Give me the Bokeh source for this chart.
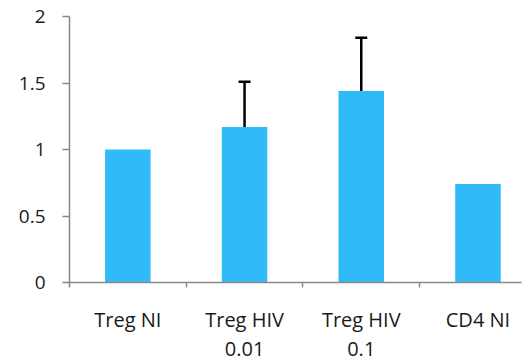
from bokeh.plotting import figure
from bokeh.models import (Range1d, FixedTicker, LinearAxis, ColumnDataSource,
                          Whisker, TeeHead)
from bokeh.embed import file_html
from bokeh.resources import INLINE

categories = ["Treg NI", "Treg HIV\n0.01", "Treg HIV\n0.1", "CD4 NI"]
values = [1.0, 1.17, 1.44, 0.74]
error_tops = [None, 1.51, 1.84, None]
y_ticks = [0, 0.5, 1, 1.5, 2]
y_labels = ["0", "0.5", "1", "1.5", "2"]

BAR_COLOR = "#31BAF8"
AXIS_COLOR = "#898989"
TEXT_COLOR = "#1a1a1a"
FONT = "Open Sans"

centers = [i + 0.5 for i in range(len(categories))]
boundaries = [i for i in range(len(categories) + 1)]
line1 = [c.split("\n")[0] for c in categories]
line2_pos = [x for x, c in zip(centers, categories) if "\n" in c]
line2 = [c.split("\n")[1] for c in categories if "\n" in c]

p = figure(width=523, height=360,
           x_range=Range1d(0, 3.873), y_range=Range1d(0, 2),
           output_backend="svg", toolbar_location=None,
           x_axis_type=None, y_axis_type=None,
           min_border_left=69, min_border_right=2,
           min_border_top=16, min_border_bottom=78)
p.outline_line_color = None
p.xgrid.visible = False
p.ygrid.visible = False
p.background_fill_color = "white"
p.border_fill_color = "white"

src = ColumnDataSource(dict(x=centers, top=values))
p.vbar(x="x", top="top", bottom=0, width=0.39, source=src,
       fill_color=BAR_COLOR, line_color=None)

ex = [c for c, e in zip(centers, error_tops) if e is not None]
ev = [v for v, e in zip(values, error_tops) if e is not None]
et = [e for e in error_tops if e is not None]
esrc = ColumnDataSource(dict(x=ex, lower=ev, upper=et))
w = Whisker(base="x", lower="lower", upper="upper", source=esrc,
            line_color="black", line_width=2.5,
            upper_head=TeeHead(size=12, line_color="black", line_width=2.5),
            lower_head=None, level="overlay")
p.add_layout(w)

# y axis
yaxis = LinearAxis(ticker=FixedTicker(ticks=y_ticks),
                   major_label_overrides={t: l for t, l in zip(y_ticks, y_labels)})
yaxis.axis_line_color = AXIS_COLOR
yaxis.axis_line_width = 1.5
yaxis.major_tick_line_color = AXIS_COLOR
yaxis.major_tick_line_width = 1.5
yaxis.major_tick_out = 7
yaxis.major_tick_in = 0
yaxis.minor_tick_line_color = None
yaxis.major_label_text_font = FONT
yaxis.major_label_text_font_size = "19px"
yaxis.major_label_text_color = TEXT_COLOR
yaxis.major_label_standoff = 17
p.add_layout(yaxis, "left")

# x axis: line, boundary ticks (minor) and first label line at centers
xaxis1 = LinearAxis(ticker=FixedTicker(ticks=centers, minor_ticks=boundaries),
                    major_label_overrides={c: l for c, l in zip(centers, line1)})
xaxis1.axis_line_color = AXIS_COLOR
xaxis1.axis_line_width = 1.5
xaxis1.major_tick_line_color = None
xaxis1.major_tick_out = 0
xaxis1.major_tick_in = 0
xaxis1.minor_tick_line_color = AXIS_COLOR
xaxis1.minor_tick_line_width = 1.5
xaxis1.minor_tick_out = 5
xaxis1.minor_tick_in = 0
xaxis1.major_label_text_font = FONT
xaxis1.major_label_text_font_size = "20px"
xaxis1.major_label_text_color = TEXT_COLOR
xaxis1.major_label_standoff = 18
p.add_layout(xaxis1, "below")

# x axis: second label line
xaxis2 = LinearAxis(ticker=FixedTicker(ticks=line2_pos),
                    major_label_overrides={c: l for c, l in zip(line2_pos, line2)})
xaxis2.axis_line_color = None
xaxis2.major_tick_line_color = None
xaxis2.major_tick_out = 0
xaxis2.major_tick_in = 0
xaxis2.minor_tick_line_color = None
xaxis2.major_label_text_font = FONT
xaxis2.major_label_text_font_size = "20px"
xaxis2.major_label_text_color = TEXT_COLOR
xaxis2.major_label_standoff = 6
p.add_layout(xaxis2, "below")

open("out.html", "w").write(file_html(p, INLINE))
